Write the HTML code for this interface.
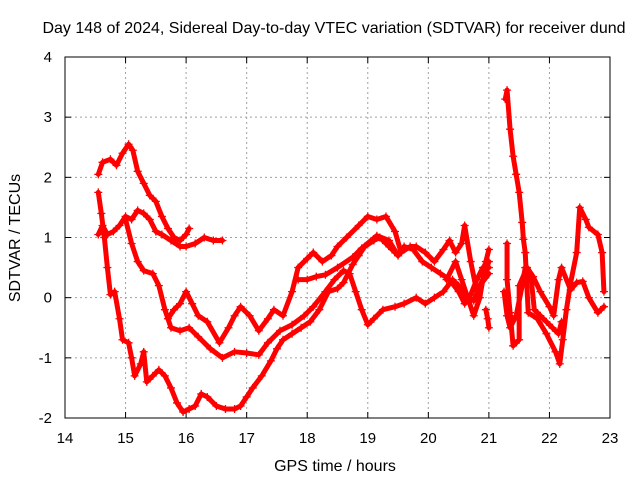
<!DOCTYPE html>
<html><head><meta charset="utf-8"><style>
body{margin:0;background:#fff}
svg{display:block;font-family:"Liberation Sans",sans-serif}
</style></head><body>
<svg id="chart" width="640" height="480">
<rect width="640" height="480" fill="#fff"/>
<text x="334" y="33" font-size="16" text-anchor="middle">Day 148 of 2024, Sidereal Day-to-day VTEC variation (SDTVAR) for receiver dund</text>
<g id="grid"></g><g id="axes"></g><g id="marks"></g>
<text x="335" y="471" font-size="16" text-anchor="middle">GPS time / hours</text>
<text transform="translate(20,238) rotate(-90)" font-size="16" text-anchor="middle">SDTVAR / TECUs</text>
</svg>
<script>
const xTicks=[14,15,16,17,18,19,20,21,22,23];
const yTicks=[-2,-1,0,1,2,3,4];
const s1=[[14.55,2.05],[14.62,2.25],[14.75,2.3],[14.85,2.2],[14.95,2.4],[15.05,2.55],[15.12,2.45],[15.2,2.1],[15.3,1.9],[15.4,1.7],[15.5,1.6],[15.6,1.35],[15.7,1.15],[15.8,1.0],[15.9,0.95],[16.0,1.05],[16.05,1.15]];
const s2=[[14.55,1.05],[14.62,1.2],[14.7,1.05],[14.8,1.1],[14.9,1.2],[15.0,1.35],[15.1,1.3],[15.2,1.45],[15.3,1.4],[15.4,1.3],[15.5,1.1],[15.6,1.05],[15.75,0.95],[15.9,0.85],[16.0,0.85],[16.15,0.9],[16.3,1.0],[16.45,0.95],[16.6,0.95]];
const s3=[[15.0,1.3],[15.1,0.9],[15.2,0.6],[15.3,0.45],[15.45,0.4],[15.55,0.2],[15.65,-0.2],[15.75,-0.5],[15.9,-0.55],[16.05,-0.5],[16.2,-0.65],[16.4,-0.85],[16.6,-1.0],[16.8,-0.9],[17.0,-0.92],[17.2,-0.95],[17.35,-0.75],[17.55,-0.55],[17.75,-0.45],[17.95,-0.3],[18.1,-0.15],[18.3,0.1],[18.45,0.3],[18.6,0.45],[18.7,0.4],[18.8,0.1],[18.9,-0.2],[19.0,-0.45],[19.1,-0.35],[19.25,-0.2],[19.45,-0.15],[19.6,-0.1],[19.8,0.0],[19.95,-0.1],[20.1,0.0],[20.25,0.1],[20.4,0.3],[20.5,0.2],[20.6,0.05],[20.75,-0.05],[20.85,0.2],[21.0,0.4]];
const s4=[[14.55,1.75],[14.6,1.4],[14.65,1.0],[14.7,0.5],[14.75,0.05],[14.82,0.1],[14.9,-0.35],[14.95,-0.7],[15.05,-0.75],[15.1,-1.0],[15.15,-1.3],[15.25,-1.1],[15.3,-0.9],[15.35,-1.4],[15.45,-1.3],[15.55,-1.2],[15.65,-1.3],[15.75,-1.5],[15.85,-1.75],[15.95,-1.9],[16.05,-1.85],[16.15,-1.8],[16.25,-1.6],[16.35,-1.65],[16.5,-1.8],[16.65,-1.85],[16.8,-1.85],[16.9,-1.8],[17.0,-1.65],[17.1,-1.5],[17.25,-1.3],[17.4,-1.05],[17.5,-0.85],[17.6,-0.7],[17.75,-0.6],[17.9,-0.5],[18.05,-0.4],[18.2,-0.2],[18.35,0.1],[18.5,0.15],[18.6,0.25],[18.75,0.55],[18.85,0.7],[18.95,0.85],[19.1,0.95],[19.2,1.0],[19.3,0.9],[19.4,0.8],[19.5,0.7],[19.6,0.85],[19.75,0.8],[19.9,0.6],[20.05,0.5],[20.2,0.4],[20.35,0.3],[20.5,0.1],[20.6,-0.1],[20.7,0.05],[20.8,0.3],[20.9,0.5],[21.0,0.5]];
const s5=[[15.7,-0.35],[15.8,-0.2],[15.9,-0.1],[16.0,0.1],[16.1,-0.1],[16.2,-0.3],[16.35,-0.4],[16.55,-0.75],[16.7,-0.5],[16.8,-0.3],[16.9,-0.15],[17.05,-0.3],[17.2,-0.55],[17.35,-0.35],[17.45,-0.2],[17.6,-0.3],[17.75,0.1],[17.85,0.5],[18.0,0.65],[18.1,0.75],[18.25,0.6],[18.4,0.7],[18.5,0.85],[18.65,1.0],[18.85,1.2],[19.0,1.35],[19.15,1.3],[19.3,1.35],[19.45,1.1],[19.55,0.75],[19.7,0.85],[19.8,0.85],[19.95,0.75],[20.1,0.6],[20.25,0.8],[20.35,0.95],[20.45,0.75],[20.55,0.9],[20.6,1.2],[20.7,0.6],[20.8,0.1],[20.9,0.3],[21.0,0.6]];
const s6=[[17.85,0.3],[18.0,0.3],[18.15,0.35],[18.3,0.38],[18.5,0.5],[18.75,0.67],[18.9,0.82],[19.15,1.03],[19.35,0.95],[19.5,0.7]];
const s7=[[21.27,3.3],[21.3,3.45],[21.35,2.8],[21.4,2.35],[21.45,2.05],[21.5,1.75],[21.55,1.25],[21.57,0.97],[21.6,0.75],[21.65,-0.25],[21.8,-0.35],[21.95,-0.6],[22.1,-0.9],[22.17,-1.1],[22.22,-0.7],[22.28,-0.2],[22.35,0.25],[22.45,0.75],[22.5,1.5],[22.6,1.3],[22.65,1.17],[22.8,1.05],[22.87,0.75],[22.9,0.1]];
const s8=[[21.3,0.9],[21.3,0.3],[21.35,-0.25],[21.4,-0.8],[21.5,-0.7],[21.5,0.2],[21.63,0.5],[21.73,0.35],[21.85,0.1],[22.0,-0.15],[22.07,-0.3],[22.15,0.3],[22.2,0.5],[22.35,0.13],[22.45,0.25],[22.55,0.27],[22.65,0.0],[22.8,-0.25],[22.9,-0.15]];
const s9=[[21.25,0.1],[21.3,-0.3],[21.35,-0.5],[21.45,-0.3],[21.55,0.2],[21.6,0.5],[21.7,0.3],[21.75,-0.2],[21.85,-0.3],[21.95,-0.4],[22.05,-0.5],[22.15,-0.6],[22.2,-0.4]];
const s10=[[20.3,0.3],[20.45,0.6],[20.55,0.3],[20.65,0.0],[20.75,-0.3],[20.85,0.0],[20.95,0.6],[21.0,0.8]];
const s11=[[20.95,-0.2],[20.98,-0.35],[21.0,-0.5]];
const series=[s1,s2,s3,s4,s5,s6,s7,s8,s9,s10,s11];
const X0=65,X1=610,Y0=418,Y1=57;
const xs=t=>X0+(t-14)/9*(X1-X0);
const ys=v=>Y0-(v+2)/6*(Y0-Y1);
const NS="http://www.w3.org/2000/svg";
function mk(tag,attrs,parent){const e=document.createElementNS(NS,tag);for(const k in attrs)e.setAttribute(k,attrs[k]);parent.appendChild(e);return e;}
const grid=document.getElementById('grid'),axes=document.getElementById('axes'),marks=document.getElementById('marks');
xTicks.forEach(t=>{const x=xs(t);
 if(t>14&&t<23){const g=mk('line',{x1:x,x2:x,y1:Y1,y2:Y0,stroke:'#a0a0a0','stroke-dasharray':'2,3'},grid);
 
 }
 mk('line',{x1:x,x2:x,y1:Y0,y2:Y0-6,stroke:'#000'},axes);
 mk('line',{x1:x,x2:x,y1:Y1,y2:Y1+6,stroke:'#000'},axes);
 const l=mk('text',{x:x,y:443,'font-size':15,'text-anchor':'middle'},axes);l.textContent=t;
 
 
});
yTicks.forEach(v=>{const y=ys(v);
 if(v>-2&&v<4){const g=mk('line',{x1:X0,x2:X1,y1:y,y2:y,stroke:'#a0a0a0','stroke-dasharray':'2,3'},grid);
 
 }
 mk('line',{x1:X0,x2:X0+6,y1:y,y2:y,stroke:'#000'},axes);
 mk('line',{x1:X1,x2:X1-6,y1:y,y2:y,stroke:'#000'},axes);
 const l=mk('text',{x:52,y:y+5,'font-size':15,'text-anchor':'end'},axes);l.textContent=v;
 
 
});
const frame=mk('rect',{x:X0,y:Y1,width:X1-X0,height:Y0-Y1,fill:'none',stroke:'#000'},axes);


series.forEach((s,i)=>{
 const g=mk('g',{},marks);
 
 
 mk('polyline',{points:s.map(p=>xs(p[0])+','+ys(p[1])).join(' '),fill:'none',stroke:'#f00','stroke-width':5,'stroke-linejoin':'round','stroke-linecap':'round'},g);
 s.forEach(p=>{const x=xs(p[0]),y=ys(p[1]);
  const m=mk('path',{d:`M${x-4},${y}H${x+4}M${x},${y-4}V${y+4}`,stroke:'#f00','stroke-width':1.3},g);
  
  
 });
});
</script>
</body></html>
